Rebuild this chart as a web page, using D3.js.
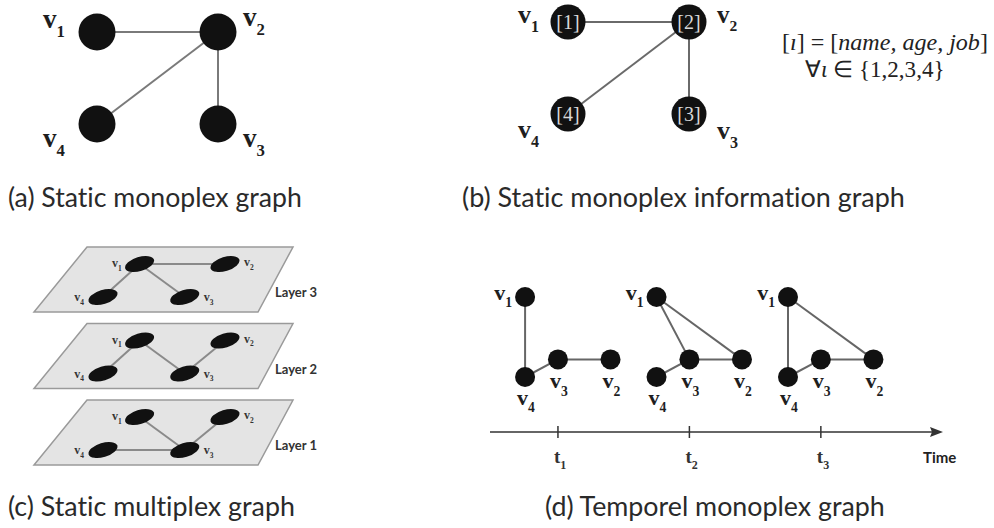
<!DOCTYPE html>
<html>
<head>
<meta charset="utf-8">
<script src="https://cdn.jsdelivr.net/npm/d3@7"></script>
<style>
body { margin: 0; background: #fff; }
svg { display: block; }
.cap { font-family: Lato, "Open Sans", sans-serif; fill: #2a2a2a; font-variant-ligatures: none; }
.vlab { font-family: "Liberation Serif", "DejaVu Serif", serif; font-weight: bold; fill: #1e1e1e; }
</style>
</head>
<body>
<svg id="fig" width="994" height="528"></svg>
<script>
// ---- data ----
var nodeIds = ["v1", "v2", "v3", "v4"];
var gridX = [0, 1, 1, 0];          // panels a and b
var gridY = [0, 0, 1, 1];
var staticEdges = [["v1", "v2"], ["v2", "v4"], ["v2", "v3"]];
var infoLabels = ["[1]", "[2]", "[3]", "[4]"];

var layerNames = ["Layer 3", "Layer 2", "Layer 1"];
var layerX = [0.3, 1, 0.67, 0];    // node spots inside a layer
var layerY = [0, 0, 1, 1];
var layerEdges = [
    [["v1", "v2"], ["v1", "v4"], ["v1", "v3"]],
    [["v1", "v4"], ["v1", "v3"], ["v3", "v2"]],
    [["v1", "v3"], ["v3", "v2"], ["v4", "v3"]]
];

var timeSteps = [1, 2, 3];
var timeLabels = ["1", "2", "3"];
var tempDx = [-0.25, 0.4, 0, -0.25];
var tempDy = [0, 0.78, 0.78, 1];
var temporalEdges = [
    [["v1", "v4"], ["v4", "v3"], ["v3", "v2"]],
    [["v1", "v3"], ["v1", "v2"], ["v3", "v2"], ["v4", "v3"]],
    [["v1", "v4"], ["v1", "v2"], ["v4", "v3"], ["v3", "v2"]]
];

var captions = ["(a) Static monoplex graph", "(b) Static monoplex information graph",
    "(c) Static multiplex graph", "(d) Temporel monoplex graph"];

var svg = d3.select("#fig");

// v with a subscript
function vLabel(g, x, y, sub, size, anchor) {
    var t = g.append("text").attr("class", "vlab")
        .attr("x", x).attr("y", y)
        .attr("text-anchor", anchor || "start")
        .style("font-size", size + "px");
    t.append("tspan").text("v");
    t.append("tspan").attr("dy", size * 0.33).style("font-size", (size * 0.62) + "px").text(sub);
    return t;
}

// shrink/grow text to a measured width
function fitText(t, width) {
    var fs = parseFloat(t.style("font-size"));
    var w = t.node().getComputedTextLength();
    t.style("font-size", (fs * width / w) + "px");
}

function nodePos(xs, ys, sx, sy) {
    var m = {};
    nodeIds.forEach(function (id, i) { m[id] = [sx(xs[i]), sy(ys[i])]; });
    return m;
}

function drawEdges(g, edges, pos, color) {
    g.selectAll("line.e").data(edges).enter().append("line")
        .attr("x1", d => pos[d[0]][0]).attr("y1", d => pos[d[0]][1])
        .attr("x2", d => pos[d[1]][0]).attr("y2", d => pos[d[1]][1])
        .attr("stroke", color).attr("stroke-width", 2);
}

// ---- panel a ----
var ga = svg.append("g");
var ax = d3.scaleLinear().domain([0, 1]).range([97, 218]);
var ay = d3.scaleLinear().domain([0, 1]).range([32, 124]);
var posA = nodePos(gridX, gridY, ax, ay);
drawEdges(ga, staticEdges, posA, "#7a7a7a");
ga.selectAll("circle").data(nodeIds).enter().append("circle")
    .attr("cx", d => posA[d][0]).attr("cy", d => posA[d][1])
    .attr("r", 18.5).attr("fill", "#111");
vLabel(ga, posA.v1[0] - 54, posA.v1[1] - 4, "1", 27);
vLabel(ga, posA.v2[0] + 25, posA.v2[1] - 6, "2", 27);
vLabel(ga, posA.v4[0] - 54, posA.v4[1] + 23, "4", 27);
vLabel(ga, posA.v3[0] + 25, posA.v3[1] + 23, "3", 27);

// ---- panel b ----
var gb = svg.append("g");
var bx = d3.scaleLinear().domain([0, 1]).range([568, 689]);
var by = d3.scaleLinear().domain([0, 1]).range([22, 114]);
var posB = nodePos(gridX, gridY, bx, by);
drawEdges(gb, staticEdges, posB, "#6a6a6a");
gb.selectAll("circle").data(nodeIds).enter().append("circle")
    .attr("cx", d => posB[d][0]).attr("cy", d => posB[d][1])
    .attr("r", 17.5).attr("fill", "#111");
gb.selectAll("text.in").data(nodeIds).enter().append("text")
    .attr("class", "in")
    .attr("x", d => posB[d][0]).attr("y", d => posB[d][1] + 7)
    .attr("text-anchor", "middle")
    .style("font-family", "Liberation Serif, serif").style("font-size", "20px")
    .attr("fill", "#d8d8d8")
    .text((d, i) => infoLabels[i]);
vLabel(gb, posB.v1[0] - 50, posB.v1[1] + 1, "1", 26);
vLabel(gb, posB.v2[0] + 28, posB.v2[1] + 1, "2", 25);
vLabel(gb, posB.v4[0] - 50, posB.v4[1] + 24, "4", 26);
vLabel(gb, posB.v3[0] + 28, posB.v3[1] + 25, "3", 26);

var f1 = gb.append("text").attr("x", 782).attr("y", 50)
    .style("font-family", "Liberation Serif, serif").style("font-size", "22px").attr("fill", "#222");
f1.append("tspan").text("[");
f1.append("tspan").style("font-style", "italic").text("ı");
f1.append("tspan").text("] = [");
f1.append("tspan").style("font-style", "italic").text("name, age, job");
f1.append("tspan").text("]");
fitText(f1, 206);
var f2 = gb.append("text").attr("x", 805).attr("y", 77)
    .style("font-family", "Liberation Serif, serif").style("font-size", "19px").attr("fill", "#222");
f2.append("tspan").text("∀");
f2.append("tspan").style("font-style", "italic").text("ι");
f2.append("tspan").text("  ∈ {1,2,3,4}");
fitText(f2, 140);

// ---- panel c ----
var gc = svg.append("g");
var layerTop = d3.scalePoint().domain(layerNames).range([247, 400]);
var lx = d3.scaleLinear().domain([0, 1]).range([103, 225]);
layerNames.forEach(function (name, li) {
    var y0 = layerTop(name);
    var g = gc.append("g");
    g.append("path")
        .attr("d", d3.line()([[87, y0], [293, y0], [258, y0 + 65], [34, y0 + 65]]) + "Z")
        .attr("fill", "#e4e4e4").attr("stroke", "#9a9a9a").attr("stroke-width", 1.5);
    var ly = d3.scaleLinear().domain([0, 1]).range([y0 + 17, y0 + 50]);
    var pos = nodePos(layerX, layerY, lx, ly);
    drawEdges(g, layerEdges[li], pos, "#8a8a8a");
    g.selectAll("ellipse").data(nodeIds).enter().append("ellipse")
        .attr("transform", d => "translate(" + pos[d][0] + "," + pos[d][1] + ") rotate(-17)")
        .attr("rx", 15).attr("ry", 7).attr("fill", "#111");
    vLabel(g, pos.v1[0] - 18, pos.v1[1] + 3, "1", 12, "end").style("fill", "#333");
    vLabel(g, pos.v2[0] + 19, pos.v2[1] + 2, "2", 12).style("fill", "#333");
    vLabel(g, pos.v4[0] - 19, pos.v4[1] + 4, "4", 12, "end").style("fill", "#333");
    vLabel(g, pos.v3[0] + 19, pos.v3[1] + 4, "3", 12).style("fill", "#333");
    g.append("text").attr("class", "cap")
        .attr("x", 275).attr("y", y0 + 50)
        .style("font-size", "13px").style("font-weight", "bold").style("fill", "#333")
        .text(name);
});

// ---- panel d ----
var gd = svg.append("g");
var tx = d3.scaleLinear().domain([0, 3.45]).range([426.5, 880]);
var ty = d3.scaleLinear().domain([0, 1]).range([297, 377]);
var axisY = 432;
gd.append("line").attr("x1", 490).attr("x2", 936).attr("y1", axisY).attr("y2", axisY)
    .attr("stroke", "#333").attr("stroke-width", 1.6);
gd.append("path").attr("d", d3.line()([[943, axisY], [930, axisY - 5], [932, axisY], [930, axisY + 5]]) + "Z")
    .attr("fill", "#333");
gd.selectAll("line.tick").data(timeSteps).enter().append("line").attr("class", "tick")
    .attr("x1", d => tx(d)).attr("x2", d => tx(d))
    .attr("y1", axisY - 6).attr("y2", axisY + 6)
    .attr("stroke", "#333").attr("stroke-width", 1.5);
timeSteps.forEach(function (t, i) {
    var lab = gd.append("text").attr("class", "vlab")
        .attr("x", tx(t) - 4).attr("y", 463).style("font-size", "19px").style("fill", "#333");
    lab.append("tspan").text("t");
    lab.append("tspan").attr("dy", 6).style("font-size", "12px").text(timeLabels[i]);

    var pos = {};
    nodeIds.forEach(function (id, k) { pos[id] = [tx(t + tempDx[k]), ty(tempDy[k])]; });
    var g = gd.append("g");
    drawEdges(g, temporalEdges[i], pos, "#666");
    g.selectAll("circle").data(nodeIds).enter().append("circle")
        .attr("cx", d => pos[d][0]).attr("cy", d => pos[d][1])
        .attr("r", 10).attr("fill", "#111");
    vLabel(g, pos.v1[0] - 13, pos.v1[1] + 3, "1", 22, "end");
    vLabel(g, pos.v4[0] - 8, pos.v4[1] + 28, "4", 22);
    vLabel(g, pos.v3[0] - 8, pos.v3[1] + 29, "3", 22);
    vLabel(g, pos.v2[0] - 8, pos.v2[1] + 29, "2", 22);
});
gd.append("text").attr("class", "cap").attr("x", 923).attr("y", 463)
    .style("font-size", "15px").style("font-weight", "bold").style("fill", "#222")
    .text("Time");

// ---- captions ----
var capX = [8, 462, 8, 545];
var capY = [207, 207, 516, 516];
var capW = [294, 443, 287, 340];
captions.forEach(function (c, i) {
    var t = svg.append("text").attr("class", "cap")
        .attr("x", capX[i]).attr("y", capY[i])
        .style("font-size", "25px").text(c);
    fitText(t, capW[i]);
});
</script>
</body>
</html>
